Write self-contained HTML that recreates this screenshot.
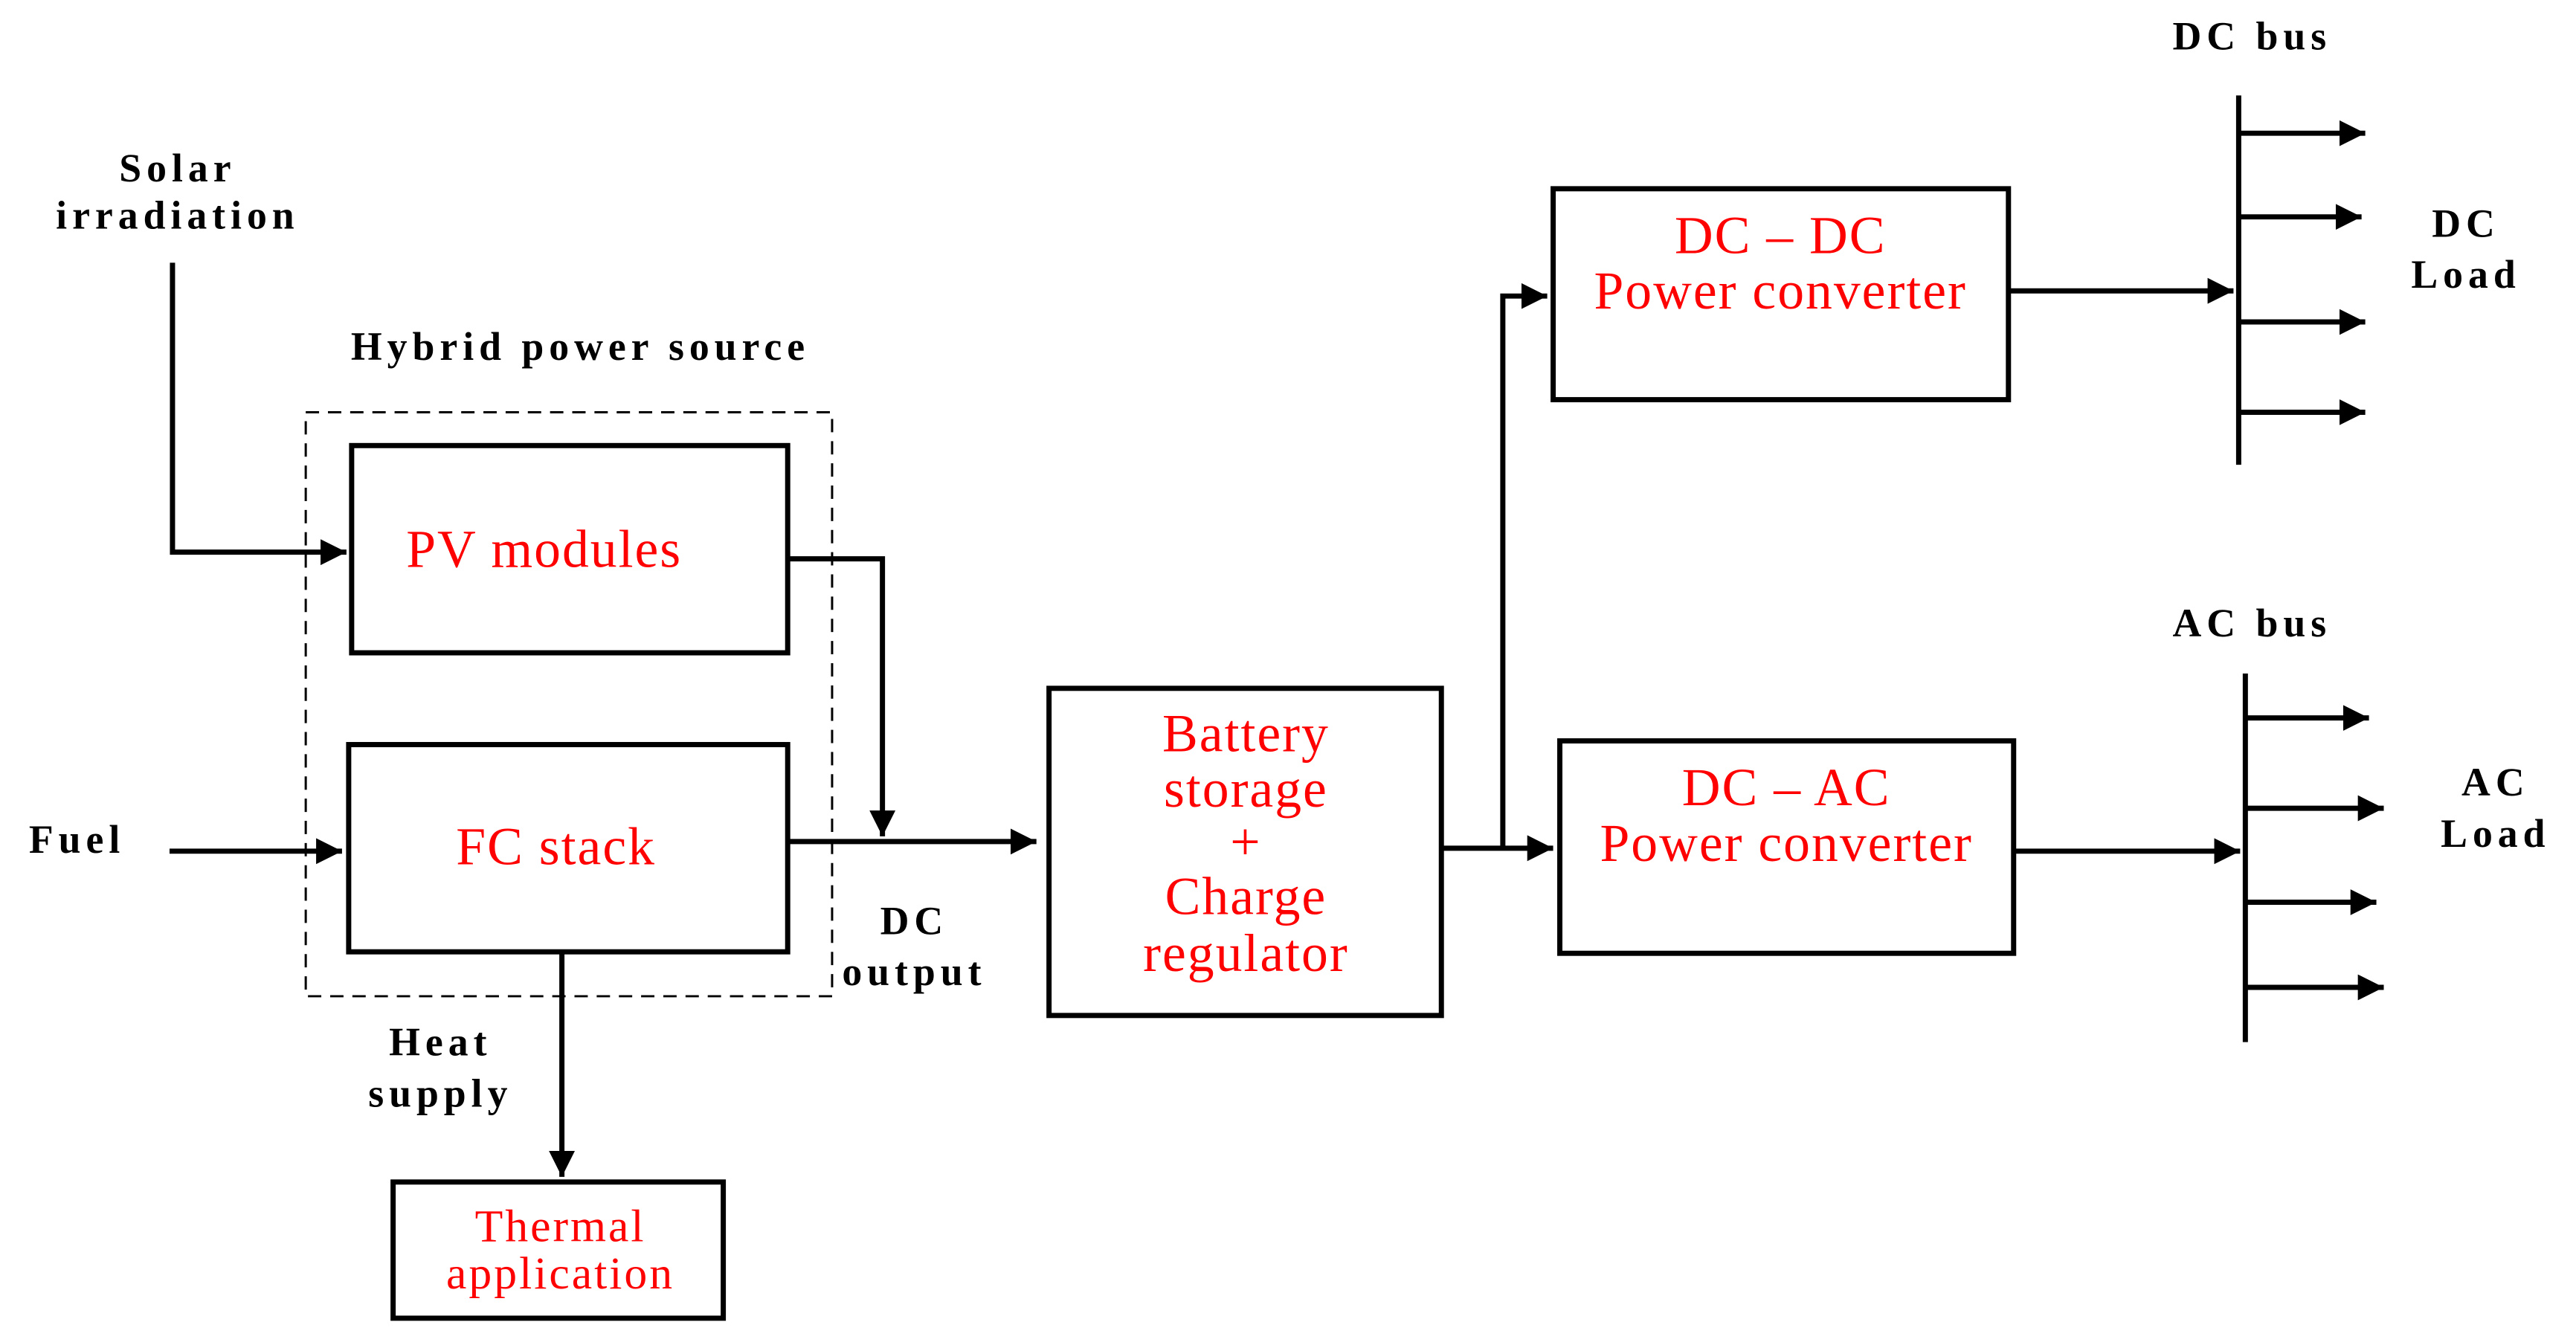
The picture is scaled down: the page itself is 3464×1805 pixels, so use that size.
<!DOCTYPE html>
<html><head><meta charset="utf-8"><style>
html,body{margin:0;padding:0;background:#fff;}
svg{display:block;}
text{font-family:"Liberation Serif",serif;}
.b{font-weight:bold;fill:#000;font-size:54px;letter-spacing:7px;}
.r{fill:#f00;font-size:72px;letter-spacing:2px;}
.t{fill:#f00;font-size:62px;letter-spacing:3px;}
</style></head><body>
<svg width="3464" height="1805" viewBox="0 0 3464 1805" xmlns="http://www.w3.org/2000/svg">
<defs><marker id="a" markerWidth="6" markerHeight="6" refX="5" refY="3" orient="auto" markerUnits="strokeWidth"><path d="M0,0.5 L5,3 L0,5.5 z" fill="#000"/></marker></defs>
<g transform="scale(0.9955)">
<g fill="none" stroke="#000" stroke-width="7">
<rect x="413" y="557" width="711" height="789" stroke-width="3" stroke-dasharray="18,12"/>
<rect x="475" y="602" width="589" height="280"/>
<rect x="471" y="1006" width="593" height="280"/>
<rect x="531" y="1597" width="446" height="184"/>
<rect x="1417" y="930" width="530" height="442"/>
<rect x="2098" y="255" width="615" height="285"/>
<rect x="2107" y="1001" width="613" height="287"/>
<polyline points="233,355 233,746 468,746" marker-end="url(#a)"/>
<line x1="229" y1="1150" x2="462" y2="1150" marker-end="url(#a)"/>
<polyline points="1064,755 1192,755 1192,1130" marker-end="url(#a)"/>
<line x1="1064" y1="1137" x2="1400" y2="1137" marker-end="url(#a)"/>
<line x1="759" y1="1286" x2="759" y2="1590" marker-end="url(#a)"/>
<line x1="1947" y1="1146" x2="2098" y2="1146" marker-end="url(#a)"/>
<polyline points="2030,1146 2030,400 2090,400" marker-end="url(#a)"/>
<line x1="2713" y1="393" x2="3017" y2="393" marker-end="url(#a)"/>
<line x1="2720" y1="1150" x2="3026" y2="1150" marker-end="url(#a)"/>
<line x1="3024" y1="129" x2="3024" y2="628"/>
<line x1="3024" y1="180" x2="3195" y2="180" marker-end="url(#a)"/>
<line x1="3024" y1="293" x2="3190" y2="293" marker-end="url(#a)"/>
<line x1="3024" y1="435" x2="3195" y2="435" marker-end="url(#a)"/>
<line x1="3024" y1="557" x2="3195" y2="557" marker-end="url(#a)"/>
<line x1="3033" y1="910" x2="3033" y2="1408"/>
<line x1="3033" y1="970" x2="3200" y2="970" marker-end="url(#a)"/>
<line x1="3033" y1="1092" x2="3220" y2="1092" marker-end="url(#a)"/>
<line x1="3033" y1="1219" x2="3210" y2="1219" marker-end="url(#a)"/>
<line x1="3033" y1="1334" x2="3220" y2="1334" marker-end="url(#a)"/>
</g>
<g text-anchor="middle">
<text class="b" x="240" y="245">Solar</text>
<text class="b" x="240" y="309">irradiation</text>
<text class="b" x="784" y="486">Hybrid power source</text>
<text class="b" x="104" y="1152">Fuel</text>
<text class="b" x="595" y="1426">Heat</text>
<text class="b" x="595" y="1495">supply</text>
<text class="b" x="1235" y="1262">DC</text>
<text class="b" x="1235" y="1331">output</text>
<text class="b" x="3042" y="67">DC bus</text>
<text class="b" x="3331" y="320">DC</text>
<text class="b" x="3331" y="389">Load</text>
<text class="b" x="3042" y="860">AC bus</text>
<text class="b" x="3371" y="1075">AC</text>
<text class="b" x="3371" y="1144">Load</text>
<text class="r" x="735" y="766">PV modules</text>
<text class="r" x="751" y="1168">FC stack</text>
<text class="t" x="757" y="1677">Thermal</text>
<text class="t" x="757" y="1741">application</text>
<text class="r" x="1683" y="1015">Battery</text>
<text class="r" x="1683" y="1090">storage</text>
<text class="r" x="1683" y="1161">+</text>
<text class="r" x="1683" y="1235">Charge</text>
<text class="r" x="1683" y="1312">regulator</text>
<text class="r" x="2405" y="342">DC – DC</text>
<text class="r" x="2405" y="417">Power converter</text>
<text class="r" x="2413" y="1088">DC – AC</text>
<text class="r" x="2413" y="1163">Power converter</text>
</g>
</g>
</svg>
</body></html>
